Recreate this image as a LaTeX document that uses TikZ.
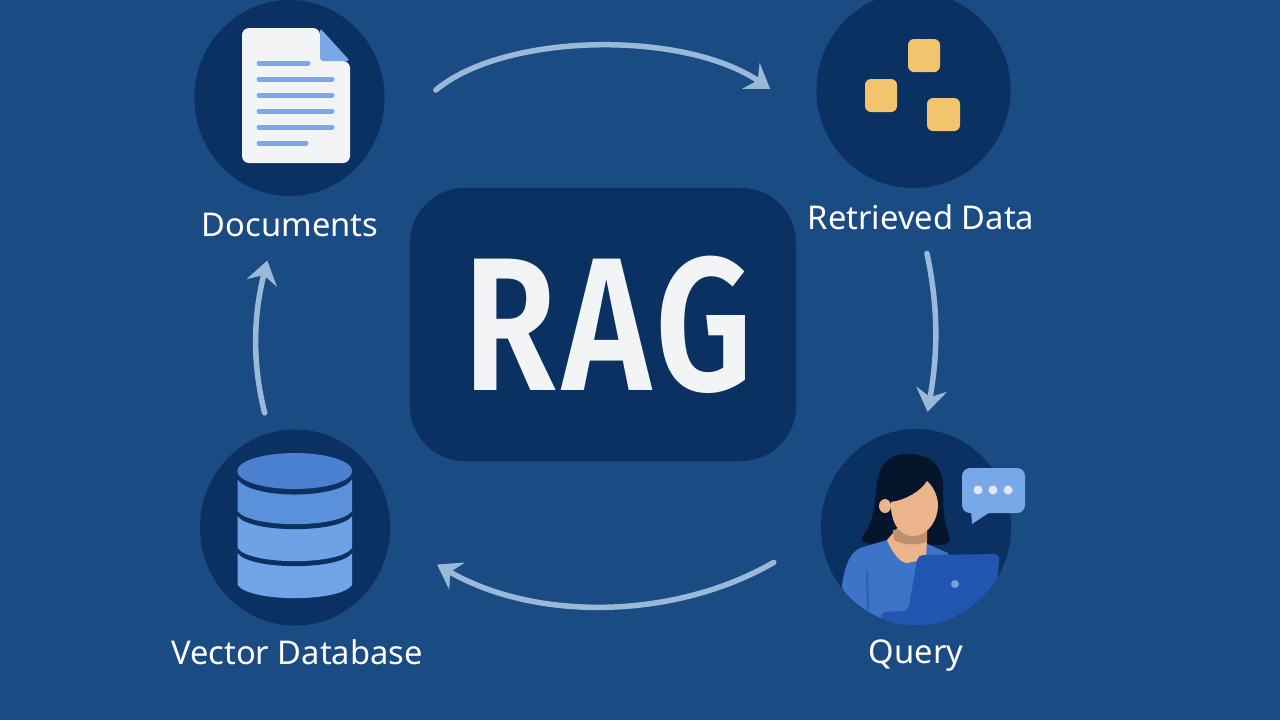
\documentclass[tikz,border=0pt]{standalone}
\usepackage{fontspec}
\setmainfont{Noto Sans}
\newfontfamily\ragfont[LetterSpace=4]{Fira Sans SemiBold}
\usetikzlibrary{arrows.meta,shapes.geometric}
\definecolor{backblue}{HTML}{1A4B82}
\definecolor{darkblue}{HTML}{0A3162}
\definecolor{arrowblue}{HTML}{9AB8D8}
\definecolor{iconblue}{HTML}{78A8E8}
\definecolor{skin}{HTML}{ECB48A}
\definecolor{chipyellow}{HTML}{F2C46D}
\definecolor{paper}{HTML}{F3F4F6}
\begin{document}
\begin{tikzpicture}
		[x=0.01cm,y=-0.01cm,
		place/.style={ellipse,fill=darkblue,inner sep=0pt,minimum width=1.9cm,minimum height=1.96cm},
		ragbox/.style={rectangle,rounded corners=0.55cm,fill=darkblue,inner sep=0pt,minimum width=3.86cm,minimum height=2.73cm,text=paper,font=\ragfont\fontsize{54}{58}\selectfont},
		textstyle/.style={text=white,inner sep=1pt,font=\fontsize{9.3}{11}\selectfont},
		edgestyle/.style={line width=0.055cm,line cap=round,draw=arrowblue,-{Stealth[length=0.23cm,width=0.31cm,inset=0.08cm]}},
		textline/.style={line width=0.05cm,line cap=round,draw=iconblue},
		chip/.style={rounded corners=0.06cm,fill=chipyellow}]
		\useasboundingbox (0,0) rectangle (1280,720);
		\fill[backblue] (0,0) rectangle (1280,720);
		% circles and labels
		\node at (289.5,98) (docs) [place] {};
		\node at (913.5,90) (data) [place,minimum width=1.94cm] {};
		\node at (295,527.5) (vector) [place] {};
		\node at (916,527) (query) [place] {};
		\node at (603,324.5) (rag) [ragbox] {\hspace*{3pt}\raisebox{-1.2pt}{\scalebox{0.8}[1]{RAG}}};
		\node at (290,225) (docslabel) [textstyle] {Documents};
		\node at (921,217) (datalabel) [textstyle] {Retrieved Data};
		\node at (297,652) (vectorlabel) [textstyle] {Vector Database};
		\node at (916,656) (querylabel) [textstyle] {Query};
		% arrows
		\draw[edgestyle,shorten <=78pt*0.2845,shorten >=62pt*0.2845] (docs.-26) to [out=40,in=146,looseness=0.96] (data.200);
		\draw[edgestyle,shorten <=20pt*0.2845,shorten >=17pt*0.2845] (datalabel.-84) to [out=-78,in=80] (query.85);
		\draw[edgestyle,shorten <=54pt*0.2845,shorten >=54pt*0.2845] (query.185) to [out=-150,in=-30,looseness=1.0] (vector.-6);
		\draw[edgestyle,shorten <=20pt*0.2845,shorten >=20pt*0.2845] (vector.105) to [out=104,in=-104] (docslabel.222);
		% document icon
		\fill[paper,rounded corners=0.07cm] (320,28) -- (242,28) -- (242,163) -- (350,163) -- (350,61) -- (320,61) -- cycle;
		\fill[iconblue,rounded corners=0.03cm] (320,28) -- (320,61) -- (350,61) -- cycle;
		\draw[textline] (259,63) -- (308,63);
		\foreach \y in {79,95,111,127}
			\draw[textline] (259,\y) -- (332,\y);
		\draw[textline] (259,143) -- (306,143);
		% retrieved chips
		\fill[chip] (908,39) rectangle (940,72);
		\fill[chip] (865,79) rectangle (897,112);
		\fill[chip] (927,98) rectangle (960,131);
		% database icon
		\foreach \ya/\yb/\colr in {553/585/6FA5E8,516/548/6EA2E6,480/511/5B90DB}{
			\definecolor{layer}{HTML}{\colr}
			\fill[darkblue] (237.5,\ya) -- (237.5,\yb+5) .. controls (250,\yb+22.5) and (340,\yb+22.5) .. (352,\yb+5) -- (352,\ya) -- cycle;
			\fill[layer] (237.5,\ya) -- (237.5,\yb) .. controls (250,\yb+17.5) and (340,\yb+17.5) .. (352,\yb) -- (352,\ya) -- cycle;
		}
		\fill[darkblue] (294.75,476.5) ellipse [x radius=57.5,y radius=18];
		\fill[fill={rgb,255:red,74;green,128;blue,207}] (294.75,471) ellipse [x radius=57.5,y radius=18];
		% query person
		\begin{scope}
			\clip (916,527) ellipse [x radius=95,y radius=98];
			\fill[black!55!darkblue] (908,454) .. controls (885,454) and (878,468) .. (876,490) .. controls (874,515) and (870,528) .. (862,537) .. controls (860,545) and (875,545) .. (885,541) -- (935,545) .. controls (950,546) and (952,540) .. (949,535) .. controls (943,520) and (943,505) .. (943,484) .. controls (942,465) and (930,454) .. (908,454) -- cycle;
			\fill[fill={rgb,255:red,62;green,116;blue,200}] (842,585) .. controls (845,565) and (850,553) .. (860,548) -- (887,540) -- (925,543) -- (948,553) -- (960,640) -- (850,640) -- cycle;
			\draw[draw={rgb,255:red,46;green,96;blue,180},line width=0.02cm] (867,570) -- (868,610);
			\fill[skin] (887,540) .. controls (892,552) and (900,563) .. (907,563) -- (926,559) -- (927,540) -- (900,525) -- cycle;
			\fill[skin!80!black] (893,530) -- (894,540) .. controls (905,546) and (918,545) .. (927,542) -- (927,525) -- cycle;
			\fill[skin] (885,506) ellipse [x radius=6,y radius=7];
			\fill[skin] (891,502) .. controls (905,500) and (920,492) .. (927,481) .. controls (932,485) and (938,495) .. (938,505) .. controls (938,520) and (928,536) .. (913,536) .. controls (898,536) and (890,520) .. (891,502) -- cycle;
			\fill[fill={rgb,255:red,32;green,85;blue,176},rounded corners=0.05cm] (918,555) -- (1000,554) -- (992,625) -- (881,625) -- (881,612) -- (908,611) -- cycle;
			\fill[fill={rgb,255:red,122;green,160;blue,220}] (955,584) circle [radius=4];
		\end{scope}
		% speech bubble
		\fill[iconblue,rounded corners=0.08cm] (962,468) rectangle (1025,513);
		\fill[iconblue] (971,510) -- (972,524) -- (990,512) -- cycle;
		\foreach \x in {978,993,1008}
			\fill[white!90!blue] (\x,490) circle [radius=4.5];
	\end{tikzpicture}
\end{document}
